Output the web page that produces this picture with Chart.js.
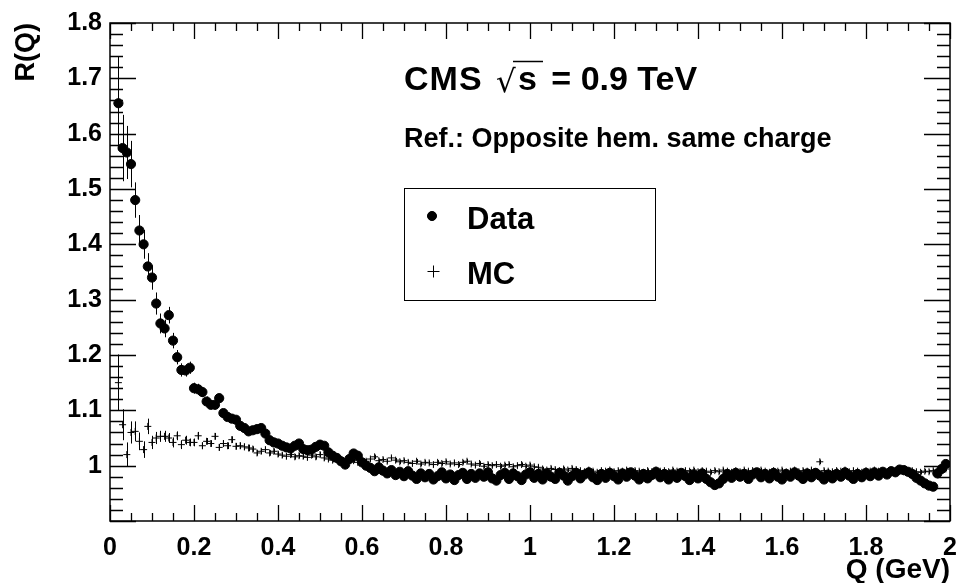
<!DOCTYPE html>
<html>
<head>
<meta charset="utf-8">
<script src="https://cdn.jsdelivr.net/npm/chart.js@4/dist/chart.umd.min.js"></script>
<style>
  html, body { margin: 0; padding: 0; background: #fff; }
  canvas { display: block; }
</style>
</head>
<body>
<canvas id="rq" width="958" height="583"></canvas>
<script>
// Q bin centres (GeV)
const qBins = [
  0.02,0.03,0.04,0.05,0.06,0.07,0.08,0.09,0.10,0.11,
  0.12,0.13,0.14,0.15,0.16,0.17,0.18,0.19,0.20,0.21,
  0.22,0.23,0.24,0.25,0.26,0.27,0.28,0.29,0.30,0.31,
  0.32,0.33,0.34,0.35,0.36,0.37,0.38,0.39,0.40,0.41,
  0.42,0.43,0.44,0.45,0.46,0.47,0.48,0.49,0.50,0.51,
  0.52,0.53,0.54,0.55,0.56,0.57,0.58,0.59,0.60,0.61,
  0.62,0.63,0.64,0.65,0.66,0.67,0.68,0.69,0.70,0.71,
  0.72,0.73,0.74,0.75,0.76,0.77,0.78,0.79,0.80,0.81,
  0.82,0.83,0.84,0.85,0.86,0.87,0.88,0.89,0.90,0.91,
  0.92,0.93,0.94,0.95,0.96,0.97,0.98,0.99,1.00,1.01,
  1.02,1.03,1.04,1.05,1.06,1.07,1.08,1.09,1.10,1.11,
  1.12,1.13,1.14,1.15,1.16,1.17,1.18,1.19,1.20,1.21,
  1.22,1.23,1.24,1.25,1.26,1.27,1.28,1.29,1.30,1.31,
  1.32,1.33,1.34,1.35,1.36,1.37,1.38,1.39,1.40,1.41,
  1.42,1.43,1.44,1.45,1.46,1.47,1.48,1.49,1.50,1.51,
  1.52,1.53,1.54,1.55,1.56,1.57,1.58,1.59,1.60,1.61,
  1.62,1.63,1.64,1.65,1.66,1.67,1.68,1.69,1.70,1.71,
  1.72,1.73,1.74,1.75,1.76,1.77,1.78,1.79,1.80,1.81,
  1.82,1.83,1.84,1.85,1.86,1.87,1.88,1.89,1.90,1.91,
  1.92,1.93,1.94,1.95,1.96,1.97,1.98,1.99
]

// R(Q) for data
const dataR = [
  1.655,1.574,1.566,1.545,1.480,1.425,1.400,1.360,1.340,1.293,
  1.257,1.248,1.272,1.226,1.196,1.173,1.172,1.177,1.140,1.138,
  1.133,1.116,1.110,1.110,1.122,1.095,1.088,1.085,1.083,1.072,
  1.068,1.062,1.064,1.066,1.068,1.058,1.046,1.042,1.040,1.036,
  1.033,1.031,1.036,1.040,1.030,1.028,1.029,1.034,1.038,1.036,
  1.024,1.018,1.014,1.008,1.002,1.012,1.022,1.018,1.006,1.000,
  0.996,0.990,0.997,0.991,0.986,0.992,0.983,0.989,0.981,0.990,
  0.982,0.976,0.986,0.979,0.985,0.975,0.981,0.988,0.977,0.984,
  0.974,0.983,0.987,0.976,0.985,0.978,0.986,0.980,0.988,0.977,
  0.973,0.983,0.987,0.976,0.986,0.981,0.974,0.984,0.988,0.978,
  0.985,0.975,0.986,0.980,0.976,0.987,0.982,0.973,0.981,0.987,
  0.977,0.984,0.988,0.979,0.974,0.985,0.978,0.987,0.981,0.975,
  0.986,0.980,0.988,0.982,0.975,0.985,0.977,0.983,0.989,0.979,
  0.985,0.975,0.984,0.978,0.987,0.981,0.974,0.984,0.977,0.986,
  0.976,0.970,0.965,0.968,0.976,0.985,0.978,0.987,0.980,0.985,
  0.976,0.984,0.988,0.979,0.985,0.977,0.987,0.980,0.975,0.985,
  0.980,0.988,0.982,0.976,0.986,0.979,0.987,0.982,0.975,0.984,
  0.977,0.985,0.980,0.988,0.982,0.976,0.985,0.979,0.987,0.981,
  0.988,0.982,0.989,0.984,0.990,0.988,0.993,0.992,0.989,0.985,
  0.978,0.973,0.968,0.964,0.962,0.986,0.994,1.003
]
const dataErr = [
  0.085,0.060,0.048,0.042,0.032,0.028,0.026,0.024,0.022,0.020,
  0.018,0.016,0.015,0.014,0.013,0.012,0.011,0.011,0.010,0.010,
  0.009,0.009,0.008,0.008,0.008,0.007,0.007,0.007,0.007,0.006,
  0.006,0.006,0.006,0.006,0.006,0.006,0.006,0.006,0.006,0.006,
  0.006,0.006,0.006,0.006,0.005,0.005,0.005,0.005,0.005,0.005,
  0.005,0.005,0.005,0.005,0.005,0.005,0.005,0.005,0.005,0.005,
  0.005,0.005,0.005,0.005,0.005,0.005,0.005,0.005,0.005,0.005,
  0.005,0.005,0.005,0.005,0.005,0.005,0.005,0.005,0.005,0.005,
  0.005,0.005,0.005,0.005,0.005,0.005,0.005,0.005,0.005,0.005,
  0.005,0.005,0.005,0.005,0.005,0.005,0.005,0.005,0.005,0.005,
  0.005,0.005,0.005,0.005,0.005,0.005,0.005,0.005,0.005,0.005,
  0.005,0.005,0.005,0.005,0.005,0.005,0.005,0.005,0.005,0.005,
  0.005,0.005,0.005,0.005,0.005,0.005,0.005,0.005,0.005,0.005,
  0.005,0.005,0.005,0.005,0.005,0.005,0.005,0.005,0.005,0.005,
  0.005,0.005,0.006,0.005,0.005,0.005,0.005,0.005,0.005,0.005,
  0.005,0.005,0.005,0.005,0.005,0.005,0.005,0.005,0.005,0.005,
  0.005,0.005,0.005,0.005,0.005,0.005,0.005,0.005,0.005,0.005,
  0.005,0.005,0.005,0.005,0.005,0.005,0.005,0.005,0.005,0.005,
  0.005,0.005,0.005,0.005,0.005,0.005,0.005,0.005,0.005,0.006,
  0.006,0.006,0.006,0.006,0.006,0.006,0.006,0.006
]

// R(Q) for MC
const mcR = [
  1.150,1.074,1.020,1.060,1.062,1.044,1.029,1.071,1.042,1.050,
  1.053,1.053,1.050,1.042,1.054,1.038,1.046,1.042,1.042,1.054,
  1.036,1.044,1.040,1.053,1.033,1.040,1.036,1.047,1.035,1.036,
  1.034,1.032,1.030,1.023,1.026,1.029,1.023,1.026,1.021,1.019,
  1.017,1.020,1.016,1.018,1.017,1.015,1.019,1.016,1.020,1.014,
  1.012,1.010,1.014,1.011,1.008,1.012,1.009,1.006,1.010,1.008,
  1.012,1.016,1.009,1.011,1.008,1.014,1.010,1.007,1.009,1.006,
  1.004,1.008,1.003,1.006,1.005,1.002,1.006,1.004,1.007,1.003,
  1.005,1.002,1.006,1.008,1.003,1.001,1.004,0.999,1.002,1.000,
  1.002,0.999,1.001,1.002,0.998,1.000,1.002,0.999,1.001,0.998,
  0.997,0.994,0.992,0.995,0.993,0.991,0.994,0.992,0.995,0.993,
  0.991,0.989,0.992,0.990,0.988,0.991,0.990,0.992,0.989,0.991,
  0.990,0.992,0.989,0.991,0.990,0.988,0.991,0.989,0.992,0.990,
  0.991,0.989,0.992,0.990,0.988,0.991,0.990,0.992,0.989,0.991,
  0.990,0.988,0.991,0.989,0.992,0.990,0.988,0.991,0.989,0.992,
  0.990,0.991,0.989,0.992,0.990,0.988,0.991,0.990,0.992,0.989,
  0.990,0.992,0.989,0.991,0.990,0.992,0.989,1.007,0.991,0.990,
  0.989,0.991,0.990,0.992,0.989,0.991,0.990,0.988,0.991,0.990,
  0.992,0.990,0.991,0.989,0.992,0.990,0.991,0.989,0.990,0.991,
  0.989,0.988,0.990,0.989,0.991,0.990,0.992,0.994
]
const mcErr = [
  0.051,0.028,0.022,0.020,0.018,0.016,0.015,0.014,0.012,0.011,
  0.010,0.010,0.009,0.009,0.008,0.008,0.008,0.007,0.007,0.007,
  0.006,0.006,0.006,0.006,0.006,0.006,0.006,0.006,0.006,0.006,
  0.006,0.006,0.005,0.005,0.005,0.005,0.005,0.005,0.005,0.005,
  0.005,0.005,0.005,0.005,0.005,0.005,0.005,0.005,0.005,0.005,
  0.004,0.004,0.004,0.004,0.004,0.004,0.004,0.004,0.004,0.004,
  0.004,0.004,0.004,0.004,0.004,0.004,0.004,0.004,0.004,0.004,
  0.004,0.004,0.004,0.004,0.004,0.004,0.004,0.004,0.004,0.004,
  0.004,0.004,0.004,0.004,0.004,0.004,0.004,0.004,0.004,0.004,
  0.004,0.004,0.004,0.004,0.004,0.004,0.004,0.004,0.004,0.004,
  0.004,0.004,0.004,0.004,0.004,0.004,0.004,0.004,0.004,0.004,
  0.004,0.004,0.004,0.004,0.004,0.004,0.004,0.004,0.004,0.004,
  0.004,0.004,0.004,0.004,0.004,0.004,0.004,0.004,0.004,0.004,
  0.004,0.004,0.004,0.004,0.004,0.004,0.004,0.004,0.004,0.004,
  0.004,0.004,0.004,0.004,0.004,0.004,0.004,0.004,0.004,0.004,
  0.004,0.004,0.004,0.004,0.004,0.004,0.004,0.004,0.004,0.004,
  0.004,0.004,0.004,0.004,0.004,0.004,0.004,0.004,0.004,0.004,
  0.004,0.004,0.004,0.004,0.004,0.004,0.004,0.004,0.004,0.004,
  0.004,0.004,0.004,0.004,0.004,0.004,0.004,0.004,0.004,0.004,
  0.004,0.004,0.004,0.004,0.004,0.004,0.004,0.004
]

const xTickValues = [0, 0.2, 0.4, 0.6, 0.8, 1, 1.2, 1.4, 1.6, 1.8, 2]
const xTickLabels = ['0', '0.2', '0.4', '0.6', '0.8', '1', '1.2', '1.4', '1.6', '1.8', '2']
const yTickValues = [1, 1.1, 1.2, 1.3, 1.4, 1.5, 1.6, 1.7, 1.8]
const yTickLabels = ['1', '1.1', '1.2', '1.3', '1.4', '1.5', '1.6', '1.7', '1.8']

const FONT = "'Liberation Sans', Arial, Helvetica, sans-serif"

Chart.defaults.font.family = FONT
Chart.defaults.color = '#000'

// vertical error bars, ROOT style
const errorBars = {
  id: 'errorBars',
  beforeDatasetsDraw(chart) {
    const { ctx, chartArea: a, scales: { x, y } } = chart
    ctx.save()
    ctx.beginPath()
    ctx.rect(a.left, a.top, a.width, a.height)
    ctx.clip()
    ctx.strokeStyle = '#000'
    ctx.lineWidth = 1
    chart.data.datasets.forEach(ds => {
      ctx.beginPath()
      ds.data.forEach((p, i) => {
        const e = ds.errors[i]
        const px = Math.round(x.getPixelForValue(p.x)) + 0.5
        ctx.moveTo(px, y.getPixelForValue(p.y + e))
        ctx.lineTo(px, y.getPixelForValue(p.y - e))
      })
      ctx.stroke()
    })
    ctx.restore()
  }
}

// frame with inward ticks on all four sides
const rootFrame = {
  id: 'rootFrame',
  afterDraw(chart) {
    const { ctx, chartArea: a, scales: { x, y } } = chart
    ctx.save()
    ctx.strokeStyle = '#000'
    ctx.lineWidth = 1.3
    ctx.beginPath()
    // x: minor every 0.05, major every 0.2
    for (let k = 0; k <= 40; k++) {
      const px = Math.round(x.getPixelForValue(k * 0.05)) + 0.5
      const len = k % 4 === 0 ? 16 : 8
      ctx.moveTo(px, a.bottom); ctx.lineTo(px, a.bottom - len)
      ctx.moveTo(px, a.top); ctx.lineTo(px, a.top + len)
    }
    // y: minor every 0.02, major every 0.1
    for (let k = 0; k <= 45; k++) {
      const py = Math.round(y.getPixelForValue(0.9 + k * 0.02)) + 0.5
      const len = k % 5 === 0 ? 26 : 13
      ctx.moveTo(a.left, py); ctx.lineTo(a.left + len, py)
      ctx.moveTo(a.right, py); ctx.lineTo(a.right - len, py)
    }
    ctx.stroke()
    ctx.lineWidth = 1.5
    ctx.strokeRect(a.left, a.top, a.width, a.height)
    ctx.restore()
  }
}

// CMS label, reference text and legend box
const annotations = {
  id: 'annotations',
  afterDraw(chart) {
    const { ctx } = chart
    ctx.save()
    ctx.fillStyle = '#000'
    ctx.strokeStyle = '#000'
    ctx.textBaseline = 'alphabetic'

    ctx.font = 'bold 34px ' + FONT
    ctx.letterSpacing = '1px'
    ctx.fillText('CMS', 404, 90)
    ctx.letterSpacing = '0px'
    ctx.font = '31px ' + "'DejaVu Sans', sans-serif"
    ctx.fillText('\u221A', 496, 92)
    ctx.font = 'bold 34px ' + FONT
    const sW = ctx.measureText('s').width
    ctx.fillText('s', 518, 90)
    ctx.lineWidth = 1.5
    ctx.beginPath()
    ctx.moveTo(513, 61.5); ctx.lineTo(543, 61.5)
    ctx.stroke()
    ctx.fillText(' = 0.9 TeV', 518 + sW + 5, 90)

    ctx.font = 'bold 27px ' + FONT
    ctx.fillText('Ref.: Opposite hem. same charge', 404, 147)

    // legend
    ctx.lineWidth = 1
    ctx.strokeRect(404.5, 188.5, 251, 112)
    Chart.helpers.drawPoint(ctx, { pointStyle: 'circle', radius: 4.5, borderWidth: 1 }, 432, 216)
    ctx.fill()
    ctx.lineWidth = 1
    Chart.helpers.drawPoint(ctx, { pointStyle: 'cross', radius: 6, borderWidth: 1 }, 433.5, 271.5)
    ctx.font = 'bold 31px ' + FONT
    ctx.fillText('Data', 467, 229)
    ctx.fillText('MC', 467, 284)
    ctx.restore()
  }
}

const points = vals => qBins.map((q, i) => ({ x: q, y: vals[i] }))

new Chart(document.getElementById('rq'), {
  type: 'scatter',
  data: {
    datasets: [
      {
        label: 'Data',
        data: points(dataR),
        errors: dataErr,
        pointStyle: 'circle',
        pointRadius: 4.6,
        pointBorderWidth: 1,
        backgroundColor: '#000',
        borderColor: '#000'
      },
      {
        label: 'MC',
        data: points(mcR),
        errors: mcErr,
        pointStyle: 'cross',
        pointRadius: 3.5,
        pointBorderWidth: 1,
        backgroundColor: '#000',
        borderColor: '#000'
      }
    ]
  },
  options: {
    responsive: false,
    animation: false,
    devicePixelRatio: 1,
    layout: { padding: { top: 22, right: 0, left: 0, bottom: 0 } },
    plugins: {
      legend: { display: false },
      tooltip: { enabled: false }
    },
    scales: {
      x: {
        type: 'linear',
        min: 0,
        max: 2,
        grid: { display: false, drawTicks: false },
        border: { display: false },
        afterBuildTicks: s => { s.ticks = xTickValues.map(v => ({ value: v })) },
        afterFit: s => { s.height = 62; s.paddingRight = 8 },
        ticks: {
          autoSkip: false,
          maxRotation: 0,
          padding: 12,
          font: { size: 25, weight: 'bold' },
          callback: v => xTickLabels[xTickValues.indexOf(v)]
        },
        title: {
          display: true,
          text: 'Q (GeV)',
          align: 'end',
          padding: 0,
          font: { size: 28, weight: 'bold', lineHeight: 0.92 }
        }
      },
      y: {
        type: 'linear',
        min: 0.9,
        max: 1.8,
        grid: { display: false, drawTicks: false },
        border: { display: false },
        afterBuildTicks: s => { s.ticks = yTickValues.map(v => ({ value: v })) },
        afterFit: s => { s.width = 110 },
        ticks: {
          autoSkip: false,
          padding: 8,
          font: { size: 25, weight: 'bold' },
          callback: v => yTickLabels[yTickValues.indexOf(v)]
        },
        title: {
          display: true,
          text: 'R(Q)',
          align: 'end',
          padding: { top: 13, bottom: 0 },
          font: { size: 27, weight: 'bold', lineHeight: 1 }
        }
      }
    }
  },
  plugins: [errorBars, rootFrame, annotations]
})
</script>
</body>
</html>
